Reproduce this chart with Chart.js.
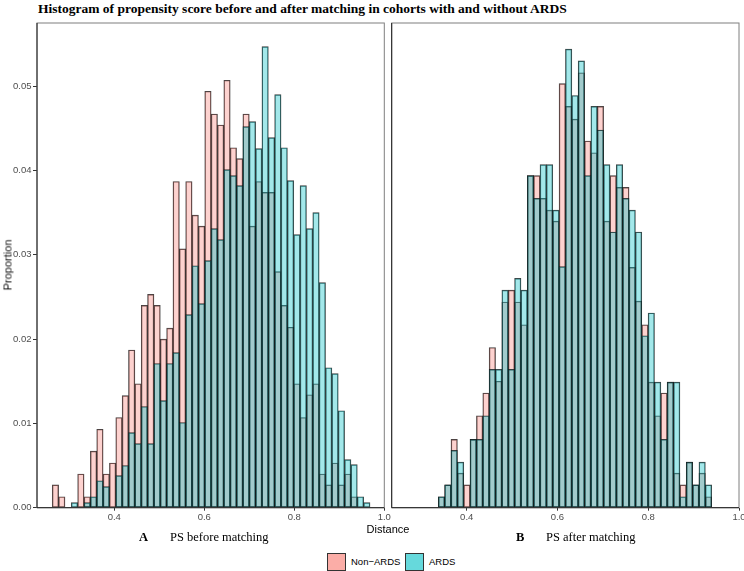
<!DOCTYPE html>
<html>
<head>
<meta charset="utf-8">
<script src="https://cdn.jsdelivr.net/npm/chart.js@4.4.0/dist/chart.umd.min.js"></script>
<style>
  body { margin: 0; background: #fff; }
  #wrap { position: relative; width: 744px; height: 571px; overflow: hidden; font-family: 'Liberation Sans', Arial, sans-serif; }
  canvas { position: absolute; top: 0; }
  #cA { left: 0; }
  #cB { left: 384px; }
  .txt { position: absolute; white-space: nowrap; line-height: 1; }
  .serif { font-family: 'Liberation Serif', 'Times New Roman', serif; }
  .key { position: absolute; width: 17px; height: 16px; border: 1.5px solid #333; }
</style>
</head>
<body>
<div id="wrap">
  <div class="txt serif" style="left:38px; top:2px; font-size:13.5px; font-weight:bold;">Histogram of propensity score before and after matching in cohorts with and without ARDS</div>
  <canvas id="cA" width="400" height="530"></canvas>
  <canvas id="cB" width="360" height="530"></canvas>
  <div class="txt" style="left:8px; top:265px; font-size:11px; color:#111; transform: translate(-50%, -50%) rotate(-90deg);">Proportion</div>
  <div class="txt" style="left:388px; top:529px; font-size:11px; transform: translate(-50%, -50%);">Distance</div>
  <div class="txt serif" style="left:139px; top:531px; font-size:12.5px; font-weight:bold;">A</div>
  <div class="txt serif" style="left:170px; top:531px; font-size:12.5px;">PS before matching</div>
  <div class="txt serif" style="left:516px; top:531px; font-size:12.5px; font-weight:bold;">B</div>
  <div class="txt serif" style="left:546px; top:531px; font-size:12.5px;">PS after matching</div>
  <div class="key" style="left:327px; top:553px; background: rgba(248,118,109,0.6);"></div>
  <div class="txt" style="left:351px; top:557px; font-size:9.5px;">Non−ARDS</div>
  <div class="key" style="left:405px; top:553px; background: rgba(0,191,196,0.6);"></div>
  <div class="txt" style="left:429px; top:557px; font-size:9.5px;">ARDS</div>
</div>
<script>
// bins (left edge of first bin + bin width) for each panel
const binStartA = 0.2622, binWidthA = 0.01412;
const binStartB = 0.3374, binWidthB = 0.01401;

// before matching, proportion per bin
const nonArdsBefore = [0.0027, 0.0013, 0, 0, 0.0040, 0.0013, 0.0067, 0.0093, 0.0040, 0.0053,
  0.0107, 0.0133, 0.0187, 0.0147, 0.0240, 0.0253, 0.0240, 0.0200, 0.0213, 0.0387,
  0.0307, 0.0387, 0.0347, 0.0334, 0.0494, 0.0467, 0.0454, 0.0507, 0.0427, 0.0414,
  0.0467, 0.0334, 0.0387, 0.0374, 0.0374, 0.0280, 0.0240, 0.0214, 0.0147, 0.0107,
  0.0134, 0.0147, 0.0040, 0.0027, 0.0053, 0.0027, 0.0040, 0.0013, 0, 0];
const ardsBefore = [0, 0, 0, 0.0006, 0, 0.0006, 0.0013, 0.0032, 0.0025, 0,
  0.0038, 0.0050, 0.0089, 0.0076, 0.0120, 0.0076, 0.0171, 0.0127, 0.0171, 0.0184,
  0.0101, 0.0229, 0.0287, 0.0242, 0.0293, 0.0331, 0.0318, 0.0401, 0.0394, 0.0382,
  0.0452, 0.0458, 0.0426, 0.0547, 0.0439, 0.0490, 0.0427, 0.0388, 0.0324, 0.0382,
  0.0331, 0.0350, 0.0267, 0.0166, 0.0159, 0.0115, 0.0057, 0.0051, 0.0013, 0.0006];

// after matching
const nonArdsAfter = [0.0013, 0.0027, 0.0081, 0.0041, 0.0027, 0.0081, 0.0109, 0.0136, 0.0190, 0.0150,
  0.0244, 0.0258, 0.0244, 0.0217, 0.0394, 0.0394, 0.0367, 0.0353, 0.0340, 0.0503,
  0.0476, 0.0461, 0.0516, 0.0435, 0.0421, 0.0476, 0.0340, 0.0394, 0.0380, 0.0380,
  0.0285, 0.0245, 0.0217, 0.0149, 0.0109, 0.0136, 0.0149, 0.0041, 0.0027, 0.0054,
  0.0027, 0.0041, 0.0013];
const ardsAfter = [0.0013, 0.0027, 0.0068, 0.0054, 0, 0.0081, 0.0081, 0.0109, 0.0164, 0.0164,
  0.0258, 0.0164, 0.0272, 0.0258, 0.0394, 0.0367, 0.0407, 0.0407, 0.0353, 0.0286,
  0.0544, 0.0489, 0.0530, 0.0394, 0.0476, 0.0448, 0.0407, 0.0327, 0.0407, 0.0367,
  0.0353, 0.0327, 0.0204, 0.0231, 0.0149, 0.0081, 0.0149, 0.0149, 0.0013, 0.0054,
  0.0027, 0.0054, 0.0027];

const xTicks = [0.4, 0.6, 0.8, 1.0];
const yTicks = [0, 0.01, 0.02, 0.03, 0.04, 0.05];
const yMax = 0.0575;

const SANS = "'Liberation Sans', Arial, sans-serif";

// ggplot style panel frame: gray box, darker axis lines
const framePlugin = {
  id: 'frame',
  afterDatasetsDraw(chart) {
    const { ctx, chartArea: a } = chart;
    ctx.save();
    ctx.lineWidth = 1;
    ctx.strokeStyle = '#7f7f7f';
    ctx.strokeRect(a.left, a.top, a.right - a.left, a.bottom - a.top);
    ctx.strokeStyle = '#222';
    ctx.beginPath();
    ctx.moveTo(a.left, a.top);
    ctx.lineTo(a.left, a.bottom);
    ctx.lineTo(a.right, a.bottom);
    ctx.stroke();
    ctx.restore();
  }
};

function toPoints(values, start, width) {
  return values.map((v, i) => ({ x: start + width * (i + 0.5), y: v }));
}

function histChart(id, nonArds, ards, start, width, xMin, showY, pad) {
  const ctx = document.getElementById(id).getContext('2d');
  const common = {
    borderColor: 'rgba(15,15,15,0.8)',
    borderWidth: 0.7,
    inflateAmount: 0.35,
    barPercentage: 1,
    categoryPercentage: 1,
    borderSkipped: false
  };
  return new Chart(ctx, {
    type: 'bar',
    data: {
      datasets: [
        { label: 'Non-ARDS', data: toPoints(nonArds, start, width), backgroundColor: 'rgba(248,118,109,0.33)', order: 1, ...common },
        { label: 'ARDS', data: toPoints(ards, start, width), backgroundColor: 'rgba(0,191,196,0.36)', order: 0, ...common }
      ]
    },
    options: {
      responsive: false,
      animation: false,
      grouped: false,
      layout: { padding: pad },
      plugins: { legend: { display: false }, tooltip: { enabled: false } },
      scales: {
        x: {
          type: 'linear',
          offset: false,
          min: xMin,
          max: 1.0,
          afterBuildTicks: s => { s.ticks = xTicks.map(v => ({ value: v })); },
          afterFit: s => { s.height = 22.3; s.paddingLeft = 0; s.paddingRight = 0; },
          ticks: { callback: v => v.toFixed(1), color: '#4d4d4d', font: { size: 9.5, family: SANS }, padding: 1, maxRotation: 0, autoSkip: false },
          grid: { offset: false, drawOnChartArea: false, tickLength: 3, color: '#333' },
          border: { display: false }
        },
        y: {
          min: 0,
          max: yMax,
          afterBuildTicks: s => { s.ticks = yTicks.map(v => ({ value: v })); },
          afterFit: s => { s.width = showY ? 37 : 0; s.paddingTop = 0; s.paddingBottom = 0; },
          ticks: { display: showY, callback: v => v.toFixed(2), color: '#4d4d4d', font: { size: 9.5, family: SANS }, padding: 1.5 },
          grid: { drawOnChartArea: false, drawTicks: showY, tickLength: 4, color: '#333' },
          border: { display: false }
        }
      }
    },
    plugins: [framePlugin]
  });
}

document.addEventListener('DOMContentLoaded', () => {
  histChart('cA', nonArdsBefore, ardsBefore, binStartA, binWidthA, 0.2283, true, { top: 23, right: 15.7, left: 0, bottom: 0 });
  histChart('cB', nonArdsAfter, ardsAfter, binStartB, binWidthB, 0.2347, false, { top: 23, right: 5, left: 7.7, bottom: 0 });
});
</script>
</body>
</html>
